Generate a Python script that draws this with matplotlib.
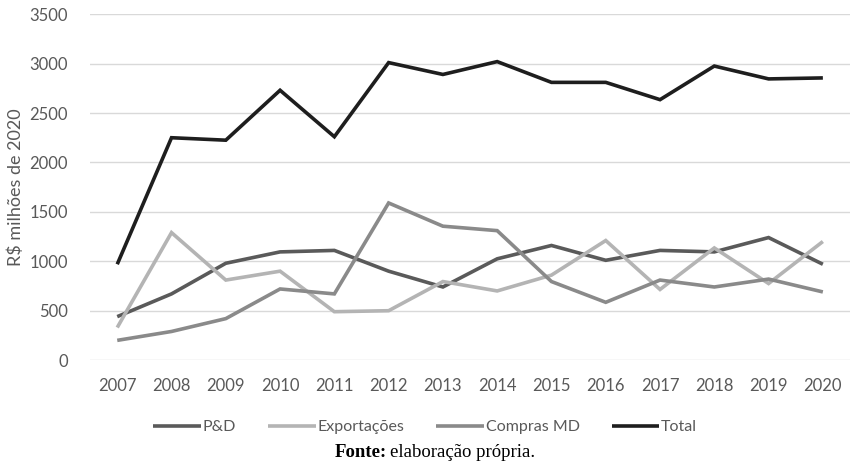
import matplotlib
matplotlib.use("Agg")
import matplotlib.pyplot as plt

years = ["2007", "2008", "2009", "2010", "2011", "2012", "2013",
         "2014", "2015", "2016", "2017", "2018", "2019", "2020"]
pd_vals = [440, 670, 980, 1095, 1110, 900, 740, 1025, 1160, 1010, 1110, 1095, 1240, 970]
exportacoes = [330, 1290, 810, 900, 490, 500, 795, 700, 860, 1210, 715, 1135, 775, 1200]
compras_md = [200, 290, 420, 720, 670, 1590, 1355, 1310, 795, 585, 810, 740, 820, 690]
total = [970, 2250, 2225, 2730, 2260, 3010, 2890, 3020, 2810, 2810, 2635, 2975, 2845, 2855]

series = [
    ("P&D", pd_vals, "#5a5a5a"),
    ("Exportações", exportacoes, "#b4b4b4"),
    ("Compras MD", compras_md, "#8a8a8a"),
    ("Total", total, "#1e1e1e"),
]

plt.rcParams["font.family"] = ["Lato", "DejaVu Sans"]
text_color = "#595959"

fig = plt.figure(figsize=(8.5, 4.72), dpi=100)
ax = fig.add_axes([0.106, 0.237, 0.894, 0.733])

x = list(range(len(years)))
for label, vals, color in series:
    ax.plot(x, vals, color=color, linewidth=2.6, label=label,
            solid_joinstyle="miter", solid_capstyle="butt")

ax.set_xlim(-0.5, len(years) - 0.5)
ax.set_ylim(0, 3500)
ax.set_yticks(range(0, 3501, 500))
ax.set_xticks(x)
ax.set_xticklabels(years)
ax.grid(axis="y", color="#d9d9d9", linewidth=1)
ax.set_axisbelow(True)
for s in ax.spines.values():
    s.set_visible(False)
ax.tick_params(length=0, labelsize=12, colors=text_color)
ax.tick_params(axis="x", pad=13)
ax.tick_params(axis="y", pad=16)
ax.set_ylabel("R$ milhões de 2020", fontsize=13, color=text_color, labelpad=4)

leg = fig.legend(loc="center", bbox_to_anchor=(0.5, 0.095), ncol=4, frameon=False,
                 fontsize=11.5, handlelength=3.0, handletextpad=0.1, columnspacing=2.0)
for t in leg.get_texts():
    t.set_color(text_color)

fig.text(0.455, 0.042, "Fonte:", ha="right", va="center", fontsize=13.5,
         fontweight="bold", family="Liberation Serif")
fig.text(0.459, 0.042, "elaboração própria.", ha="left", va="center", fontsize=13.5,
         family="Liberation Serif")

fig.savefig("out.png", dpi=100)
